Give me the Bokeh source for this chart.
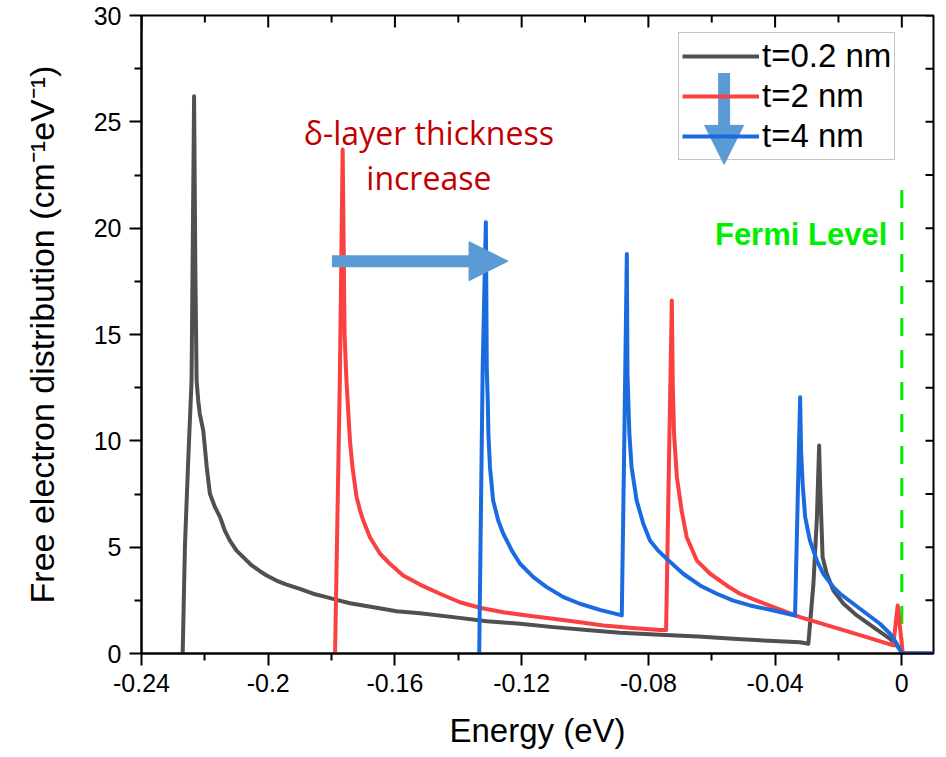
from bokeh.plotting import figure
from bokeh.models import (Range1d, FixedTicker, Legend, LegendItem,
                          Arrow, NormalHead, Label)
from bokeh.embed import file_html
from bokeh.resources import INLINE

# ---------------- data ----------------
black_x = [-0.2270, -0.2263, -0.2253, -0.2242, -0.2234, -0.2230, -0.2226, -0.2221, -0.2216, -0.2205,
           -0.2200, -0.2194, -0.2184, -0.2168, -0.2152, -0.2137, -0.2121, -0.2100, -0.2079, -0.2052,
           -0.2026, -0.2005, -0.1974, -0.1942, -0.1900, -0.1858, -0.1816, -0.1784, -0.1742, -0.1700,
           -0.1658, -0.1595, -0.1521, -0.1416, -0.1310, -0.1205, -0.1100, -0.0995, -0.0889, -0.0763,
           -0.0642, -0.0532, -0.0421, -0.0321, -0.0295, -0.0279, -0.0268, -0.0261, -0.0258, -0.0250,
           -0.0237, -0.0216, -0.0184, -0.0142, -0.0090, -0.0037, -0.0012, 0.0004, 0.0099]
black_y = [0, 5.0, 8.92, 12.83, 26.2, 18.0, 12.83, 11.9, 11.27, 10.48,
           9.70, 8.76, 7.51, 6.88, 6.41, 5.78, 5.31, 4.84, 4.53, 4.14,
           3.87, 3.67, 3.43, 3.24, 3.04, 2.81, 2.65, 2.52, 2.36, 2.26,
           2.15, 1.99, 1.89, 1.71, 1.52, 1.40, 1.24, 1.10, 0.98, 0.88,
           0.80, 0.69, 0.60, 0.53, 0.46, 3.28, 6.41, 9.78, 7.98, 4.53,
           3.75, 2.96, 2.34, 1.79, 1.24, 0.69, 0.30, 0, 0]

red_x = [-0.1789, -0.1774, -0.1765, -0.1759, -0.1753, -0.1747, -0.1742, -0.1734, -0.1721, -0.1710,
         -0.1700, -0.1679, -0.1647, -0.1616, -0.1574, -0.1521, -0.1458, -0.1395, -0.1332, -0.1258,
         -0.1184, -0.1100, -0.1016, -0.0942, -0.0850, -0.0763, -0.0744, -0.0735, -0.0726, -0.0723,
         -0.0719, -0.0710, -0.0695, -0.0679, -0.0647, -0.0605, -0.0553, -0.0511, -0.0458, -0.0405,
         -0.0321, -0.0216, -0.0111, -0.0027, -0.0013, 0.0003, 0.0099]
red_y = [0, 12.83, 23.7, 15.0, 12.83, 11.27, 10.01, 8.76, 7.35, 6.72,
         6.25, 5.47, 4.69, 4.22, 3.67, 3.24, 2.81, 2.41, 2.15, 1.94,
         1.79, 1.63, 1.47, 1.32, 1.20, 1.10, 1.11, 9.0, 16.6, 12.68,
         10.33, 8.29, 6.72, 5.47, 4.37, 3.75, 3.20, 2.81, 2.49, 2.18,
         1.71, 1.24, 0.77, 0.38, 2.26, 0, 0]

blue_x = [-0.1334, -0.1323, -0.1313, -0.1310, -0.1307, -0.1305, -0.1300, -0.1290, -0.1274, -0.1258,
          -0.1231, -0.1205, -0.1163, -0.1121, -0.1068, -0.1016, -0.0953, -0.0884, -0.0876, -0.0868,
          -0.0866, -0.0860, -0.0853, -0.0837, -0.0816, -0.0795, -0.0770, -0.0742, -0.0690, -0.0637,
          -0.0584, -0.0532, -0.0479, -0.0405, -0.0337, -0.0329, -0.0321, -0.0318, -0.0313, -0.0305,
          -0.0290, -0.0268, -0.0248, -0.0216, -0.0195, -0.0153, -0.0111, -0.0069, -0.0037, -0.0016,
          0.0000, 0.0099]
blue_y = [0, 13.46, 20.28, 13.3, 11.9, 10.33, 8.76, 7.19, 6.25, 5.63,
          4.84, 4.22, 3.59, 3.12, 2.65, 2.34, 2.05, 1.79, 10.0, 18.79,
          13.15, 10.33, 8.76, 7.19, 6.10, 5.31, 4.85, 4.45, 3.75, 3.20,
          2.81, 2.49, 2.26, 2.02, 1.79, 7.0, 12.05, 9.54, 7.98, 6.41,
          5.31, 4.37, 3.75, 3.12, 2.81, 2.34, 1.87, 1.40, 0.93, 0.46,
          0, 0]

series_labels = ["t=0.2 nm", "t=2 nm", "t=4 nm"]

fermi_x = [0.0, 0.0]
fermi_y = [21.8, 0.0]

xtick_values = [-0.24, -0.2, -0.16, -0.12, -0.08, -0.04, 0]
xtick_labels = ["-0.24", "-0.2", "-0.16", "-0.12", "-0.08", "-0.04", "0"]
xminor_values = [-0.22, -0.18, -0.14, -0.10, -0.06, -0.02]
ytick_values = [0, 5, 10, 15, 20, 25, 30]
ytick_labels = ["0", "5", "10", "15", "20", "25", "30"]
yminor_values = [2.5, 7.5, 12.5, 17.5, 22.5, 27.5]

X0, X1, Y0, Y1 = -0.24, 0.01, 0, 30

# ---------------- figure ----------------
FONT = "Liberation Sans"
W, H = 946, 757
BL, BR, BT, BB = 141, 13, 15, 104
p = figure(width=W, height=H, output_backend="svg", toolbar_location=None,
           x_range=Range1d(X0, X1), y_range=Range1d(Y0, Y1),
           min_border_left=BL, min_border_right=BR, min_border_top=BT, min_border_bottom=BB)
p.grid.visible = False
p.outline_line_color = "black"
p.outline_line_width = 2
p.background_fill_color = "white"
p.border_fill_color = "white"

xt = FixedTicker(ticks=xtick_values, minor_ticks=xminor_values)
yt = FixedTicker(ticks=ytick_values, minor_ticks=yminor_values)

for ax in p.xaxis:
    ax.ticker = xt
    ax.major_label_overrides = dict(zip(xtick_values, xtick_labels))
    ax.axis_label = "Energy (eV)"
for ax in p.yaxis:
    ax.ticker = yt
    ax.major_label_overrides = dict(zip(ytick_values, ytick_labels))
    ax.axis_label = "Free electron distribution (cm⁻¹eV⁻¹)"

for ax in list(p.xaxis) + list(p.yaxis):
    ax.axis_line_width = 2
    ax.axis_line_color = "black"
    ax.major_tick_line_width = 2
    ax.minor_tick_line_width = 2
    ax.major_tick_out = 12
    ax.major_tick_in = 0
    ax.minor_tick_out = 7
    ax.minor_tick_in = 0
    ax.major_label_text_font = FONT
    ax.major_label_text_font_size = "25px"
    ax.major_label_text_color = "black"
    ax.axis_label_text_font = FONT
    ax.axis_label_text_font_style = "normal"
    ax.axis_label_text_color = "black"

p.xaxis.axis_label_text_font_size = "33px"
p.yaxis.axis_label_text_font_size = "34px"
p.xaxis.major_label_standoff = 8
p.xaxis.axis_label_standoff = 17
p.yaxis.major_label_standoff = 8
p.yaxis.axis_label_standoff = 30

# inward ticks on the top and right frame edges
fw = W - BL - BR
fh = H - BT - BB
ypx = fh / (Y1 - Y0)
xpx = fw / (X1 - X0)
top_x = xtick_values + xminor_values
top_len = [12 / ypx] * len(xtick_values) + [7 / ypx] * len(xminor_values)
p.segment(x0=top_x, y0=[Y1] * len(top_x), x1=top_x, y1=[Y1 - l for l in top_len],
          line_color="black", line_width=2)
right_y = ytick_values + yminor_values
p.segment(x0=[X1] * len(right_y), y0=right_y, x1=[X1 - 8 / xpx] * len(right_y), y1=right_y,
          line_color="black", line_width=2)

# Fermi level
p.line(fermi_x, fermi_y, line_color="#00EE00", line_width=3, line_dash="18 14")

colors = ["#505050", "#FA4040", "#1A6BE0"]
r_black = p.line(black_x, black_y, line_color=colors[0], line_width=4, line_join="round")
r_red = p.line(red_x, red_y, line_color=colors[1], line_width=4, line_join="round")
r_blue = p.line(blue_x, blue_y, line_color=colors[2], line_width=4, line_join="round")

legend = Legend(items=[LegendItem(label=series_labels[0], renderers=[r_black]),
                       LegendItem(label=series_labels[1], renderers=[r_red]),
                       LegendItem(label=series_labels[2], renderers=[r_blue])],
                location=(537, 493), orientation="vertical",
                label_text_font=FONT, label_text_font_size="33px", label_text_color="black",
                glyph_width=77, glyph_height=40, label_height=40, label_standoff=3,
                spacing=0, padding=3, margin=0,
                border_line_color="#8C8C8C", border_line_width=1,
                background_fill_alpha=0.0)
p.add_layout(legend, "center")

arrow_blue = "#5B9BD5"
p.add_layout(Arrow(x_start=-0.1799, y_start=18.45, x_end=-0.1243, y_end=18.45,
                   line_color=arrow_blue, line_width=12,
                   end=NormalHead(size=39, fill_color=arrow_blue, line_color=arrow_blue, line_width=1)))
p.add_layout(Arrow(x_start=-0.0561, y_start=27.3, x_end=-0.0561, y_end=23.0,
                   line_color=arrow_blue, line_width=12,
                   end=NormalHead(size=39, fill_color=arrow_blue, line_color=arrow_blue, line_width=1)))

p.add_layout(Label(x=-0.1493, y=24.5, text="δ-layer thickness", text_align="center",
                   text_baseline="middle", text_font="Open Sans", text_font_size="32px",
                   text_color="#C00000"))
p.add_layout(Label(x=-0.1493, y=22.4, text="increase", text_align="center",
                   text_baseline="middle", text_font="Open Sans", text_font_size="32px",
                   text_color="#C00000"))
p.add_layout(Label(x=-0.0046, y=19.7, text="Fermi Level", text_align="right",
                   text_baseline="middle", text_font=FONT, text_font_size="31px",
                   text_font_style="bold", text_color="#00EE00"))

open("out.html", "w").write(file_html(p, INLINE))
